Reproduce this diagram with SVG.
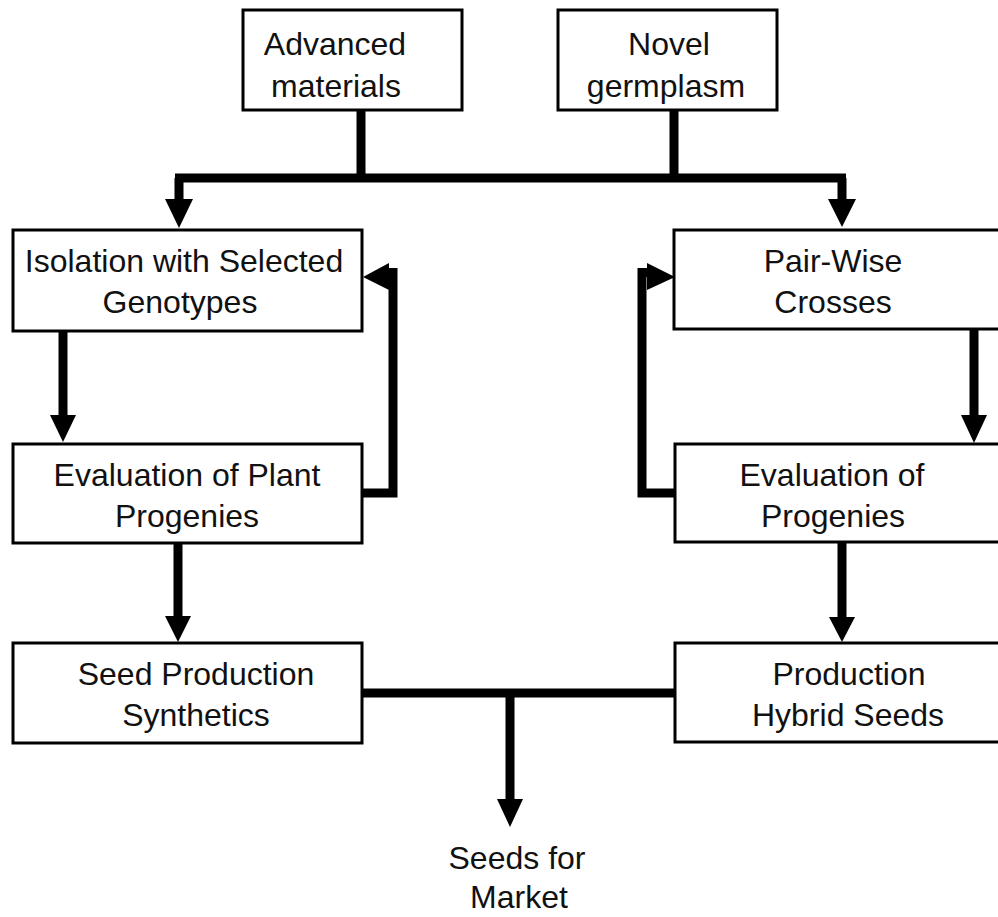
<svg xmlns="http://www.w3.org/2000/svg" width="998" height="917" viewBox="0 0 998 917">
<style>
.box{fill:#fff;stroke:#000;stroke-width:3}
.t{font-family:"Liberation Sans",Arial,sans-serif;font-size:32px;fill:#111;text-anchor:middle}
.c{fill:none;stroke:#000;stroke-width:9;stroke-linejoin:miter;stroke-linecap:butt}
.h{fill:#000}
</style>
<rect width="998" height="917" fill="#fff"/>
<g id="connectors">
<path class="c" d="M361,110 V178 M674,111 V178 M175,178 H846 M179,178 V201 M842,178 V201"/>
<polygon class="h" points="165,199 193,199 179,228"/>
<polygon class="h" points="828,199 856,199 842,227"/>
<path class="c" d="M63,331 V417"/>
<polygon class="h" points="50,415 76,415 63,442"/>
<path class="c" d="M178,543 V618"/>
<polygon class="h" points="165,616 191,616 178,642"/>
<path class="c" d="M974,329 V417"/>
<polygon class="h" points="961,415 987,415 974,443"/>
<path class="c" d="M842,542 V619"/>
<polygon class="h" points="829,617 855,617 842,642"/>
<path class="c" d="M362,493 H393 V272.5 H386"/>
<polygon class="h" points="363,277 389,263 389,290"/>
<path class="c" d="M675,493 H642 V272.5 H650"/>
<polygon class="h" points="675,277 647,263 647,290"/>
<path class="c" d="M362,693 H675 M510,693 V801"/>
<polygon class="h" points="497,799 523,799 510,827"/>
</g>
<g id="advanced">
<rect class="box" x="243" y="10" width="219" height="100"/>
<text class="t" x="335" y="55">Advanced</text>
<text class="t" x="336" y="97">materials</text>
</g>
<g id="novel">
<rect class="box" x="558" y="10" width="219" height="100"/>
<text class="t" x="669" y="55">Novel</text>
<text class="t" x="666" y="97">germplasm</text>
</g>
<g id="isolation">
<rect class="box" x="13" y="230" width="349" height="101"/>
<text class="t" x="184" y="272">Isolation with Selected</text>
<text class="t" x="180" y="313">Genotypes</text>
</g>
<g id="eval-plant">
<rect class="box" x="13" y="444" width="349" height="99"/>
<text class="t" x="187" y="486">Evaluation of Plant</text>
<text class="t" x="187" y="527">Progenies</text>
</g>
<g id="seed-production">
<rect class="box" x="13" y="643" width="349" height="100"/>
<text class="t" x="196" y="685">Seed Production</text>
<text class="t" x="196" y="726">Synthetics</text>
</g>
<g id="pairwise">
<rect class="box" x="674" y="230" width="340" height="99"/>
<text class="t" x="833" y="272">Pair-Wise</text>
<text class="t" x="833" y="313">Crosses</text>
</g>
<g id="eval-progenies">
<rect class="box" x="675" y="444" width="340" height="98"/>
<text class="t" x="832" y="486">Evaluation of</text>
<text class="t" x="833" y="527">Progenies</text>
</g>
<g id="hybrid">
<rect class="box" x="675" y="643" width="340" height="99"/>
<text class="t" x="849" y="685">Production</text>
<text class="t" x="848" y="726">Hybrid Seeds</text>
</g>
<g id="market">
<text class="t" x="517" y="869">Seeds for</text>
<text class="t" x="519" y="908">Market</text>
</g>
</svg>
